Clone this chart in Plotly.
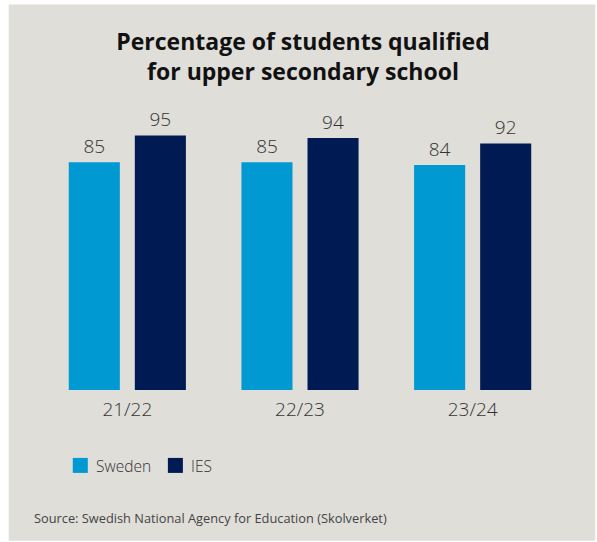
import plotly.graph_objects as go

# School years and share of students qualified (%)
years = ["21/22", "22/23", "23/24"]
sweden = [85, 85, 84]
ies = [95, 94, 92]

series_names = ["Sweden", "IES"]
series_colors = ["#0099d1", "#001b54"]

W, H = 597, 542
ML, MR, MT, MB = 41.25, 38.25, 121.7, 152
PW, PH = W - ML - MR, H - MT - MB
FONT = "Open Sans"
BG = "#dfded9"
TXT = "#333333"


def px_x(p):
    return (p - ML) / PW


def px_y(p):
    return (H - MB - p) / PH


fig = go.Figure()
for name, vals, col in zip(series_names, [sweden, ies], series_colors):
    fig.add_trace(go.Bar(
        x=years, y=vals, name=name, marker=dict(color=col, line=dict(width=0)),
        text=vals, texttemplate="%{text}", textposition="outside",
        textfont=dict(family=FONT, size=19, color=TXT, weight=300),
        cliponaxis=False, showlegend=False,
    ))

# Legend: colour swatch followed by series name
shapes = [dict(type="rect", xref="paper", yref="paper", layer="below",
               x0=px_x(9), x1=px_x(595), y0=px_y(541), y1=px_y(4),
               fillcolor=BG, line=dict(width=0))]
annotations = []
legend_x = [73, 168]
for name, col, lx in zip(series_names, series_colors, legend_x):
    shapes.append(dict(type="rect", xref="paper", yref="paper",
                       x0=px_x(lx), x1=px_x(lx + 15), y0=px_y(473), y1=px_y(458),
                       fillcolor=col, line=dict(width=0)))
    annotations.append(dict(text=name, xref="paper", yref="paper",
                            x=px_x(lx + 21), y=px_y(466), xanchor="left", yanchor="middle",
                            showarrow=False,
                            font=dict(family=FONT, size=15.5, color=TXT, weight=300)))

annotations.append(dict(
    text="Source: Swedish National Agency for Education (Skolverket)",
    xref="paper", yref="paper", x=px_x(32), y=px_y(518),
    xanchor="left", yanchor="middle", showarrow=False,
    font=dict(family=FONT, size=12.8, color="#444444"),
))

fig.update_layout(
    width=W, height=H,
    margin=dict(l=ML, r=MR, t=MT, b=MB, pad=0),
    paper_bgcolor="white", plot_bgcolor="rgba(0,0,0,0)",
    barmode="group", bargap=0.2348, bargroupgap=0.227,
    showlegend=False,
    title=dict(
        text="<b>Percentage of students qualified<br>for upper secondary school</b>",
        x=303 / W, xanchor="center", y=1 - 50 / H, yanchor="top",
        font=dict(family=FONT, size=23, color="#111111"),
    ),
    xaxis=dict(showline=False, showgrid=False, zeroline=False, ticks="",
               ticklabelstandoff=6,
               tickfont=dict(family=FONT, size=19, color=TXT, weight=300)),
    yaxis=dict(range=[0, 100], visible=False, fixedrange=True),
    shapes=shapes,
    annotations=annotations,
)

fig.write_html("out.html")
